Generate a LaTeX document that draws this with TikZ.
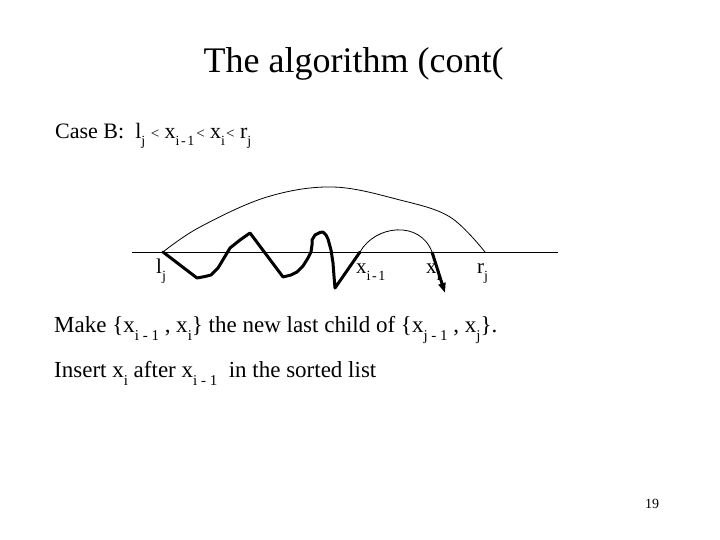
\documentclass[tikz,border=0pt]{standalone}
\usepackage{fontspec}
\setmainfont{Liberation Serif}
\usetikzlibrary{arrows.meta}
\newcommand{\sbs}[1]{\raisebox{-8pt}{\fontsize{15}{15}\selectfont #1}}
\newcommand{\sbl}[1]{\raisebox{-7pt}{\fontsize{14}{14}\selectfont #1}}
\newcommand{\lt}{{\fontsize{15}{15}\selectfont <}}
\newcommand{\mtight}{i\kern1.5pt-\kern1.5pt1}
\begin{document}
\begin{tikzpicture}[x=1pt,y=-1pt,
  body/.style={inner sep=0pt, anchor=base west, font=\fontsize{23}{26}\selectfont},
  casefont/.style={inner sep=0pt, anchor=base west, font=\fontsize{22}{26}\selectfont},
  lbl/.style={inner sep=0pt, anchor=base west, font=\fontsize{21}{24}\selectfont},
  axisline/.style={line width=1pt},
  arcline/.style={line width=0.8pt},
  wiggle/.style={line width=3pt, line join=round, line cap=round}
]
\useasboundingbox (0,0) rectangle (720,540);
\fill[white] (0,0) rectangle (720,540);
\node[inner sep=0pt, anchor=base, font=\fontsize{36}{40}\selectfont] (title) at (353.5,73) {The algorithm (cont(};
\node[casefont] (case) at (55,139) {Case B:\ \ l\sbl{j}\ \lt\ x\sbl{\mtight}\kern2pt\lt\ x\sbl{i}\kern1pt\lt\ r\sbl{j}};

\coordinate (L) at (132,252);
\coordinate (R) at (558,252);
\coordinate (lj) at (163,252);
\coordinate (rj) at (485,252);
\coordinate (xa) at (360,252);
\coordinate (xb) at (432,252);
\coordinate (tip) at (445,293);

\draw[axisline] (L) -- (R);
\draw[arcline] plot[smooth, tension=0.6] coordinates {(lj) (200,227) (267,197) (333,187) (400,200) (450,217) (rj)};
\draw[arcline] (xa) .. controls (375,225) and (420,220) .. (xb);
\draw[wiggle] (lj) -- (197,278) -- (205,276.5) -- (211,275) -- (218,268) -- (224,258) -- (230,248) -- (240,240) -- (250,233)
  -- (283,277) -- (291,275) -- (297,272) -- (303,266) -- (308,258) -- (311,252) -- (312,245) -- (312,240) -- (315,235) -- (320,232.5) -- (323,232)
  -- (326,235) -- (328,239) -- (331,250) -- (333,263) -- (334,276) -- (335,288) -- (xa);
\draw[wiggle, line cap=butt, -{Triangle[length=10pt,width=7pt]}] (xb) -- (tip);

\node[lbl] (llj) at (156,273) {l\sbl{j}};
\node[lbl] (lxa) at (356,273) {x\sbl{\mtight}};
\node[lbl] (lxb) at (426,273) {x\sbl{i}};
\node[lbl] (lrj) at (477,273) {r\sbl{j}};

\node[body] (make) at (54,332) {Make \{x\sbs{i - 1} , x\sbs{i}\} the new last child of \{x\sbs{j - 1} , x\sbs{j}\}.};
\node[body] (ins) at (54,377) {Insert x\sbs{i} after x\sbs{i - 1}\ \ in the sorted list};
\node[inner sep=0pt, font=\fontsize{14}{14}\selectfont] (num) at (652,503.5) {19};
\end{tikzpicture}
\end{document}
